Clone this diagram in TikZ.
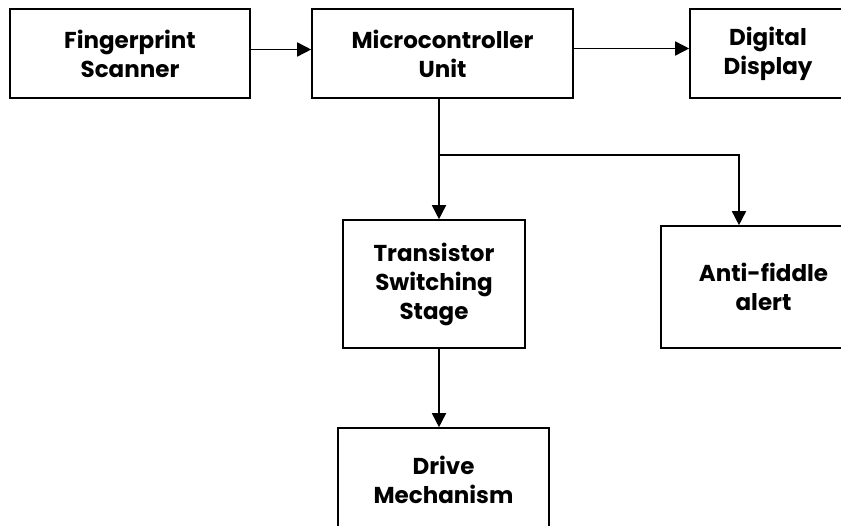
\documentclass[tikz,border=0pt]{standalone}
\usepackage{fontspec}
\setmainfont{Poppins}
\usetikzlibrary{arrows.meta,positioning}

\begin{document}
\begin{tikzpicture}[x=1pt, y=-1pt, >={Triangle[length=14pt,width=14pt]},
    line width=1.6pt,
    block/.style={draw=black, line width=1.6pt, align=center, inner sep=0pt,
      font=\fontsize{23}{29}\selectfont\bfseries}]
    \useasboundingbox (0,0) rectangle (841,526);

    % Top row
    \node[block, minimum width=240pt, minimum height=89pt] (scanner) at (130,53.5) {Fingerprint\\Scanner};
    \node[block, minimum width=261pt, minimum height=89pt] (mcu) at (442.5,53.5) {Microcontroller\\Unit};
    \node[block, minimum width=156pt, minimum height=89pt] (display) at (768,53.5) {Digital\\Display};

    % Middle row
    \node[block, minimum width=182pt, minimum height=128pt] (switch) at (434,284) {Transistor\\Switching\\Stage};
    \node[block, minimum width=205pt, minimum height=122pt] (alert) at (763.5,287) {Anti-fiddle\\alert};

    % Bottom
    \node[block, minimum width=211pt, minimum height=104pt] (drive) at (443.5,480) {Drive\\Mechanism};

    % Connections
    \draw[->] ([yshift=4pt]scanner.east) -- ([yshift=4pt]mcu.west);
    \draw[->] ([yshift=5pt]mcu.east) -- ([yshift=5pt]display.west);

    \coordinate (split) at (439,155);
    \coordinate (alertin) at (739,155);
    \draw[->] (mcu.south -| split) -- (switch.north -| split);
    \draw[->] (split) -- (alertin) -- (alertin |- alert.north);
    \draw[->] (switch.south -| split) -- (drive.north -| split);
\end{tikzpicture}
\end{document}
